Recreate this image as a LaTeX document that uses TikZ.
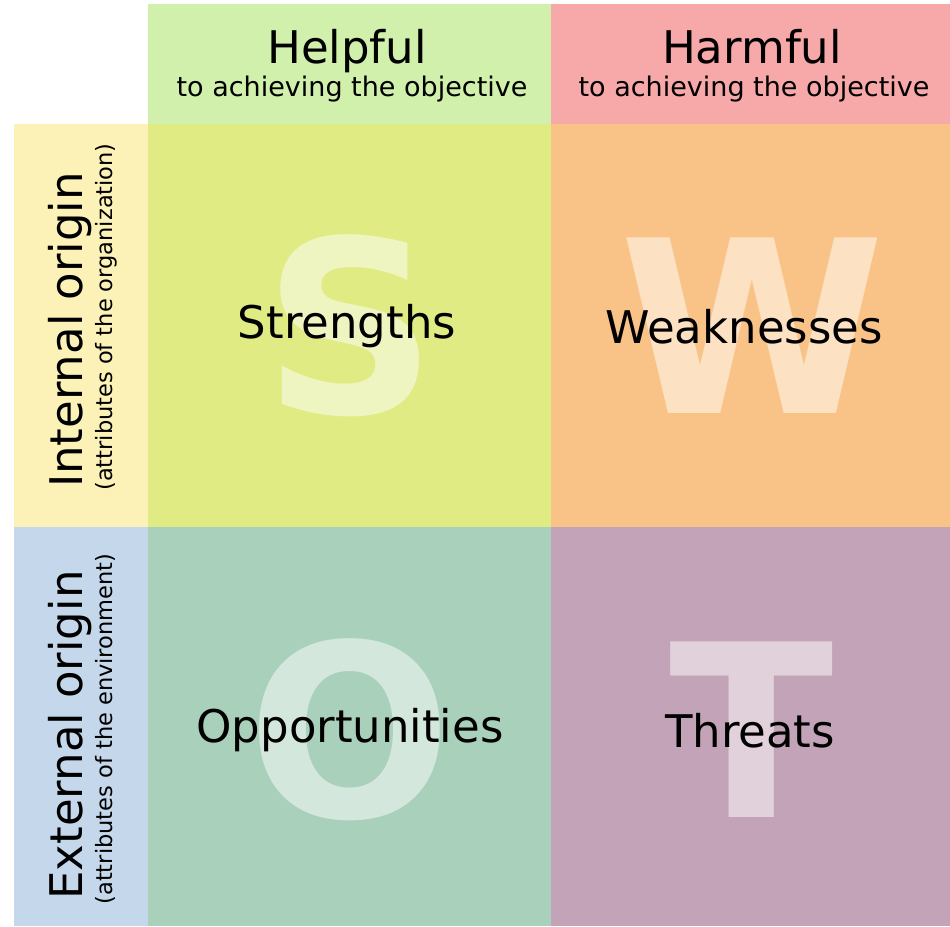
\documentclass[tikz,border=0pt]{standalone}
\usepackage{fontspec}
\setmainfont{DejaVu Sans}
\definecolor{cHelp}{HTML}{D0F0AB}
\definecolor{cHarm}{HTML}{F7A8A8}
\definecolor{cInt}{HTML}{FCF2B8}
\definecolor{cExt}{HTML}{C4D7EB}
\definecolor{cS}{HTML}{E0EB84}
\definecolor{cW}{HTML}{F9C388}
\definecolor{cO}{HTML}{A9D0BB}
\definecolor{cT}{HTML}{C2A3B7}
\newcommand{\myfs}[1]{\fontsize{#1}{#1}\selectfont}
\tikzset{
  cell/.style={draw=none},
  bigletter/.style={anchor=base, inner sep=0pt, text=white, text opacity=0.5, font=\myfs{241}\bfseries},
  quadlabel/.style={anchor=base, inner sep=0pt, text=black, font=\myfs{45}},
  headtitle/.style={anchor=base, inner sep=0pt, font=\myfs{45}},
  headsub/.style={anchor=base, inner sep=0pt, font=\myfs{27}},
  sidetitle/.style={anchor=base, inner sep=0pt, rotate=90, font=\myfs{45}},
  sidesub/.style={anchor=base, inner sep=0pt, rotate=90, font=\myfs{22.5}}
}
\begin{document}
\begin{tikzpicture}[x=1pt, y=-1pt]
\useasboundingbox (0,0) rectangle (950,926);
% header cells
\fill[cHelp] (148,4) rectangle (551,124);
\fill[cHarm] (551,4) rectangle (950,124);
% side cells
\fill[cInt] (14,124) rectangle (148,527);
\fill[cExt] (14,527) rectangle (148,926);
% quadrants
\fill[cS] (148,124) rectangle (551,527);
\fill[cW] (551,124) rectangle (950,527);
\fill[cO] (148,527) rectangle (551,926);
\fill[cT] (551,527) rectangle (950,926);
% big letters
\node[bigletter] (bS) at (350,413) {S};
\node[bigletter] (bW) at (752,413) {W};
\node[bigletter] (bO) at (350,817) {O};
\node[bigletter] (bT) at (752,817) {T};
% quadrant labels
\node[quadlabel] (tS) at (347,338) {Strengths};
\node[quadlabel] (tW) at (744,343) {Weaknesses};
\node[quadlabel] (tO) at (350,742) {Opportunities};
\node[quadlabel] (tT) at (750,747) {Threats};
% headers
\node[headtitle] (hHelp) at (347,63) {Helpful};
\node[headsub] (hHelpSub) at (352,96) {to achieving the objective};
\node[headtitle] (hHarm) at (752,63) {Harmful};
\node[headsub] (hHarmSub) at (754,96) {to achieving the objective};
% side labels
\node[sidetitle] (sInt) at (82,330) {Internal origin};
\node[sidesub] (sIntSub) at (112,317) {(attributes of the organization)};
\node[sidetitle] (sExt) at (82,735) {External origin};
\node[sidesub] (sExtSub) at (112,729) {(attributes of the environment)};
\end{tikzpicture}
\end{document}
